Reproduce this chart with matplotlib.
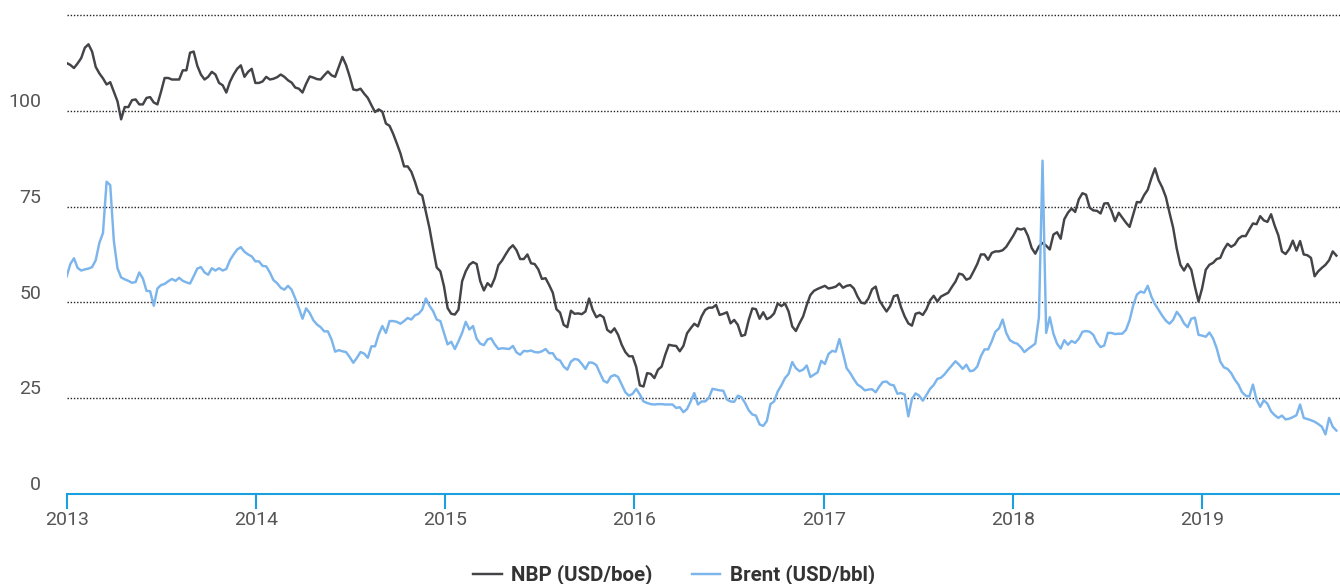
import matplotlib
matplotlib.use("Agg")
import matplotlib.pyplot as plt
import matplotlib.dates as mdates
import matplotlib.transforms as mtransforms
import pandas as pd

# ---------------- data (weekly) ----------------
nbp = [
    112.5, 112.0, 111.2, 112.4, 113.8, 116.5, 117.4, 115.5, 111.5, 109.8,
    108.5, 106.9, 107.5, 105.0, 102.5, 97.8, 101.0, 101.0, 102.8, 103.0,
    101.7, 101.7, 103.4, 103.6, 102.2, 101.7, 105.0, 108.6, 108.6, 108.2,
    108.2, 108.2, 110.6, 110.6, 115.2, 115.5, 111.8, 109.5, 108.2, 108.9,
    110.2, 109.5, 107.3, 106.7, 104.8, 107.6, 109.5, 111.0, 111.9, 108.9,
    110.2, 111.0, 107.3, 107.3, 107.7, 108.9, 108.2, 108.4, 108.8, 109.5,
    108.9, 108.0, 107.4, 106.1, 105.8, 104.8, 107.1, 109.0, 108.7, 108.3,
    108.2, 109.3, 110.3, 109.3, 108.9, 111.5, 114.1, 112.0, 109.0, 105.6,
    105.4, 105.8, 104.5, 103.4, 101.5, 99.7, 100.4, 99.8, 96.7, 96.1,
    94.0, 91.5, 88.9, 85.5, 85.5, 84.1, 81.5, 78.5, 77.9, 73.7,
    69.4, 64.1, 59.1, 58.1, 54.2, 48.5, 47.0, 46.8, 48.1, 55.5,
    58.1, 59.8, 60.5, 60.0, 55.5, 53.1, 55.0, 54.1, 56.3, 59.7,
    60.9, 62.5, 64.0, 64.9, 63.6, 61.3, 61.3, 62.5, 60.2, 60.0,
    58.6, 56.1, 56.3, 54.5, 52.5, 48.2, 47.3, 44.1, 43.5, 47.8,
    47.0, 47.1, 46.9, 47.6, 51.0, 48.0, 46.1, 46.7, 46.1, 42.8,
    42.1, 43.2, 41.5, 38.9, 37.0, 35.9, 35.9, 33.1, 28.3, 28.0,
    31.5, 31.3, 30.2, 32.4, 33.2, 36.3, 38.9, 38.7, 38.6, 37.2,
    38.6, 41.9, 43.2, 44.4, 43.7, 46.3, 48.0, 48.6, 48.6, 49.3,
    46.7, 47.0, 47.4, 44.5, 45.4, 44.1, 41.2, 41.5, 45.4, 48.4,
    48.2, 45.7, 47.4, 45.6, 46.1, 47.1, 49.7, 49.0, 49.7, 47.6,
    43.7, 42.5, 44.5, 46.3, 49.3, 51.9, 53.0, 53.5, 53.9, 54.3,
    53.6, 53.8, 54.1, 54.9, 53.8, 54.3, 54.5, 53.6, 51.5, 49.9,
    49.7, 51.0, 53.4, 54.1, 50.6, 49.0, 47.6, 49.0, 51.6, 51.9,
    48.7, 46.3, 44.5, 43.9, 47.0, 47.3, 46.7, 48.2, 50.5, 51.7,
    50.2, 51.5, 52.0, 52.5, 54.0, 55.4, 57.5, 57.2, 55.9, 56.3,
    58.1, 60.0, 62.5, 62.5, 61.1, 62.9, 63.3, 63.3, 63.6, 64.5,
    66.0, 67.5, 69.3, 69.0, 69.3, 67.3, 64.2, 62.7, 64.6, 65.5,
    64.8, 63.8, 67.7, 68.3, 66.6, 71.7, 73.4, 74.5, 73.6, 76.9,
    78.5, 78.1, 74.7, 74.0, 73.9, 73.2, 75.8, 75.9, 73.9, 71.2,
    73.4, 72.1, 70.8, 69.7, 73.0, 76.2, 76.1, 78.0, 79.4, 82.4,
    85.0, 81.9, 80.0, 77.5, 73.4, 69.5, 64.0, 59.8, 58.3, 60.0,
    58.5, 54.1, 50.2, 53.7, 58.5, 59.8, 60.3, 61.3, 61.6, 63.8,
    65.3, 64.5, 65.1, 66.6, 67.3, 67.3, 69.0, 70.6, 70.4, 72.5,
    71.4, 71.0, 73.0, 70.0, 67.5, 63.3, 62.6, 63.9, 66.1, 63.5,
    66.0, 62.5, 62.3, 61.6, 56.8, 58.1, 59.0, 59.8, 61.0, 63.3, 62.2,
]

brent = [
    56.8, 60.0, 61.5, 59.0, 58.3, 58.6, 58.8, 59.2, 61.0, 65.5,
    68.1, 81.5, 80.6, 66.0, 58.9, 56.5, 56.0, 55.6, 55.1, 55.3,
    57.8, 56.2, 53.0, 52.9, 49.1, 53.6, 54.5, 54.8, 55.5, 56.1,
    55.6, 56.4, 55.6, 55.2, 54.9, 56.8, 58.8, 59.2, 57.8, 57.2,
    58.9, 58.3, 58.9, 58.3, 58.7, 61.0, 62.5, 63.8, 64.4, 63.2,
    62.5, 62.0, 60.7, 60.7, 59.5, 59.4, 57.8, 55.8, 55.0, 53.8,
    53.3, 54.3, 53.3, 51.0, 48.5, 45.7, 48.4, 47.2, 45.3, 44.2,
    43.5, 42.4, 42.4, 40.3, 37.1, 37.5, 37.2, 37.0, 35.7, 34.2,
    35.5, 37.0, 36.6, 35.5, 38.5, 38.5, 41.6, 43.8, 42.0, 45.1,
    45.1, 44.9, 44.4, 45.1, 45.9, 45.5, 46.6, 47.0, 48.1, 51.0,
    49.1, 47.7, 45.5, 45.1, 42.0, 39.0, 39.7, 37.8, 39.8, 42.0,
    44.9, 42.9, 43.8, 40.5, 39.2, 38.8, 40.3, 40.6, 39.0, 37.8,
    38.0, 37.9, 37.8, 38.6, 36.9, 36.3, 37.3, 37.2, 37.4, 37.0,
    36.9, 37.2, 37.8, 36.7, 36.7, 35.2, 34.8, 33.2, 32.4, 34.5,
    35.2, 35.0, 33.9, 32.6, 34.3, 34.2, 33.6, 31.5, 29.5, 29.0,
    30.6, 31.0, 30.5, 28.5, 26.5, 25.6, 26.1, 27.4, 25.9, 24.1,
    23.7, 23.4, 23.3, 23.4, 23.4, 23.3, 23.3, 23.3, 22.4, 22.6,
    21.3, 22.1, 24.1, 26.3, 23.3, 24.1, 24.1, 25.0, 27.4, 27.2,
    27.0, 26.9, 24.6, 24.1, 24.0, 25.6, 25.2, 23.7, 21.8, 20.7,
    20.4, 18.1, 17.7, 19.0, 23.4, 24.1, 26.7, 28.3, 30.2, 31.3,
    34.4, 32.8, 32.0, 32.4, 33.5, 30.5, 31.1, 31.7, 34.7, 33.9,
    36.5, 37.3, 37.1, 40.4, 36.7, 32.8, 31.5, 29.9, 28.5, 27.9,
    27.0, 27.2, 27.3, 26.5, 28.0, 29.2, 29.3, 28.5, 28.3, 26.1,
    26.3, 25.9, 20.2, 24.7, 26.2, 25.6, 24.3, 25.8, 27.4, 28.4,
    30.0, 30.3, 31.2, 32.4, 33.5, 34.6, 33.7, 32.6, 33.7, 32.0,
    32.2, 33.2, 35.9, 37.7, 37.7, 39.8, 42.3, 43.2, 45.5, 42.0,
    40.1, 39.5, 39.2, 38.3, 37.0, 37.8, 38.5, 39.2, 46.0, 87.0,
    42.0, 46.1, 41.8, 39.2, 37.9, 40.1, 38.9, 39.9, 39.4, 40.5,
    42.3, 42.5, 42.3, 41.5, 39.5, 38.3, 38.7, 42.0, 42.0, 41.7,
    41.8, 41.8, 42.8, 45.3, 49.2, 52.0, 52.8, 52.5, 54.3, 51.5,
    49.5, 48.0, 46.5, 45.2, 44.4, 45.4, 47.5, 46.3, 44.5, 43.5,
    45.7, 46.0, 41.5, 41.3, 41.0, 42.1, 40.6, 38.0, 34.5, 33.0,
    32.6, 31.5, 29.8, 28.5, 26.5, 25.6, 25.4, 28.5, 24.5, 22.7,
    24.4, 23.5, 21.5, 20.5, 19.8, 20.4, 19.4, 19.6, 20.0, 20.5,
    23.3, 19.8, 19.5, 19.2, 18.8, 18.2, 17.5, 15.5, 19.8, 17.5, 16.5,
]

series_names = ["NBP (USD/boe)", "Brent (USD/bbl)"]
series_colors = ["#434348", "#7cb5ec"]
y_label_values = [0, 25, 50, 75, 100]
grid_values = [25, 50, 75, 100, 125]
x_years = [2013, 2014, 2015, 2016, 2017, 2018, 2019]
start_date = "2013-01-01"
end_date = "2019-09-24"

dates = pd.date_range(start_date, periods=len(nbp), freq="7D")

# ---------------- figure ----------------
W, H, DPI = 1340, 584, 100
fig = plt.figure(figsize=(W / DPI, H / DPI), dpi=DPI)
ax = fig.add_axes([66.7 / W, 90.3 / H, 1 - 66.7 / W, 126 * 3.828 / H])

axis_blue = "#1a9fe0"
text_gray = "#555555"
tick_font = ["Roboto", "DejaVu Sans"]

for v in grid_values:
    ax.axhline(v, color="#222222", lw=1.0, ls=(0, (1.0, 1.3)), zorder=1, clip_on=False)

l_nbp, = ax.plot(dates, nbp, color=series_colors[0], lw=1.75, zorder=3,
                 solid_joinstyle="round", label=series_names[0])
l_brent, = ax.plot(dates, brent, color=series_colors[1], lw=1.75, zorder=4,
                   solid_joinstyle="round", label=series_names[1])

ax.set_xlim(pd.Timestamp(start_date), pd.Timestamp(end_date))
ax.set_ylim(0, 126)

for s in ["top", "right", "left"]:
    ax.spines[s].set_visible(False)
ax.spines["bottom"].set_color(axis_blue)
ax.spines["bottom"].set_linewidth(1.5)

ax.set_xticks([pd.Timestamp(f"{y}-01-01") for y in x_years])
ax.xaxis.set_major_formatter(mdates.DateFormatter("%Y"))
ax.tick_params(axis="x", direction="out", length=10.8, width=1.5,
               color=axis_blue, pad=2, labelsize=14, labelcolor=text_gray)
for lab in ax.get_xticklabels():
    lab.set_family(tick_font)
ax.set_yticks([])

ytrans = mtransforms.blended_transform_factory(ax.transAxes, ax.transData) + \
    mtransforms.ScaledTranslation(-25.5 / DPI, 3.5 / DPI, fig.dpi_scale_trans)
for v in y_label_values:
    ax.text(0, v, str(v), transform=ytrans, ha="right", va="baseline",
            fontsize=14, color=text_gray, family=tick_font)

fig.legend(handles=[l_nbp, l_brent], labels=series_names, loc="center",
           bbox_to_anchor=(0.503, 9 / H), ncol=2, frameon=False,
           prop=dict(family=["Roboto", "DejaVu Sans"], weight="bold", size=14.8),
           labelcolor="#333333", handlelength=1.4, handletextpad=0.45,
           columnspacing=1.9, borderpad=0, borderaxespad=0)

fig.savefig("out.png", dpi=DPI)
